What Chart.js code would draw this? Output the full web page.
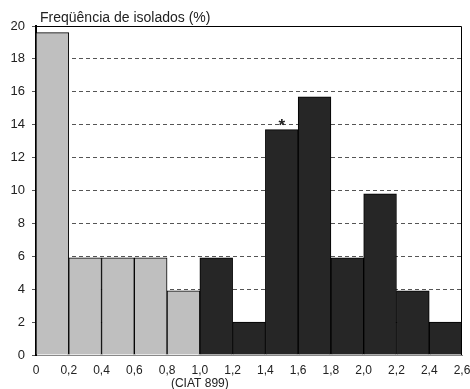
<!DOCTYPE html>
<html>
<head>
<meta charset="utf-8">
<script src="https://cdn.jsdelivr.net/npm/chart.js@4/dist/chart.umd.min.js"></script>
<style>
  html, body { margin: 0; padding: 0; background: #fff; }
  #wrap { width: 470px; height: 389px; }
</style>
</head>
<body>
<div id="wrap"><canvas id="hist"></canvas></div>
<script>
const BIN_CENTERS = [0.1, 0.3, 0.5, 0.7, 0.9, 1.1, 1.3, 1.5, 1.7, 1.9, 2.1, 2.3, 2.5];
const FREQUENCIES = [19.6, 5.9, 5.9, 5.9, 3.9, 5.9, 2.0, 13.7, 15.7, 5.9, 9.8, 3.9, 2.0];
const X_TICK_LABELS = ["0", "0,2", "0,4", "0,6", "0,8", "1,0", "1,2", "1,4", "1,6", "1,8", "2,0", "2,2", "2,4", "2,6"];
const REFERENCE_LABEL = "(CIAT 899)";
const REFERENCE_INDEX = 5;
const MARKED_BIN = 1.5;
const TITLE = "Freqüência de isolados (%)";

const GRAY = "#bfbfbf";
const DARK = "#262626";
const FONT = "'Liberation Sans', Arial, sans-serif";

const barColors = BIN_CENTERS.map((c) => (c < 1.0 ? GRAY : DARK));

// title, plot frame and the asterisk over the marked bin
const extras = {
  id: "extras",
  afterDatasetsDraw(chart) {
    const { ctx, chartArea, scales } = chart;
    ctx.save();
    ctx.strokeStyle = "#000";
    ctx.lineWidth = 1;
    ctx.beginPath();
    ctx.moveTo(chartArea.left, chartArea.top + 0.5);
    ctx.lineTo(chartArea.right - 0.5, chartArea.top + 0.5);
    ctx.lineTo(chartArea.right - 0.5, chartArea.bottom);
    ctx.stroke();

    ctx.fillStyle = "#222";
    ctx.font = "14px " + FONT;
    ctx.textAlign = "left";
    ctx.textBaseline = "alphabetic";
    ctx.fillText(TITLE, chartArea.left + 4, chartArea.top - 4);

    const idx = BIN_CENTERS.indexOf(MARKED_BIN);
    const ax = scales.x.getPixelForValue(MARKED_BIN);
    const ay = scales.y.getPixelForValue(FREQUENCIES[idx]);
    ctx.font = "bold 17px " + FONT;
    ctx.textAlign = "center";
    ctx.fillText("*", ax, ay + 1);
    ctx.restore();
  },
};

new Chart(document.getElementById("hist"), {
  type: "bar",
  data: {
    datasets: [
      {
        data: BIN_CENTERS.map((c, i) => ({ x: c, y: FREQUENCIES[i] })),
        backgroundColor: barColors,
        borderColor: "#000",
        borderWidth: 1,
        barPercentage: 1,
        categoryPercentage: 1,
      },
    ],
  },
  options: {
    responsive: true,
    maintainAspectRatio: false,
    animation: false,
    layout: {
      padding: { top: 26, right: 0, left: 0, bottom: 0 },
    },
    plugins: {
      legend: { display: false },
      tooltip: { enabled: false },
    },
    scales: {
      x: {
        type: "linear",
        offset: false,
        min: 0,
        max: 2.6,
        afterFit: (scale) => {
          scale.height = 34;
          scale.paddingRight = 8;
        },
        grid: { display: false, drawTicks: false },
        border: { display: true, color: "#888", width: 1 },
        ticks: {
          stepSize: 0.2,
          autoSkip: false,
          maxRotation: 0,
          padding: 9,
          color: "#222",
          font: { family: FONT, size: 12, lineHeight: 1.1 },
          callback: (v, i) =>
            i === REFERENCE_INDEX ? [X_TICK_LABELS[i], REFERENCE_LABEL] : X_TICK_LABELS[i],
        },
      },
      y: {
        min: 0,
        max: 20,
        afterFit: (scale) => {
          scale.width = 36;
        },
        grid: {
          color: "#555",
          lineWidth: 1,
          tickLength: 4,
          tickColor: "#555",
          tickBorderDash: [],
        },
        border: { display: true, color: "#000", width: 2, dash: [4, 3] },
        ticks: {
          stepSize: 2,
          padding: 7,
          color: "#222",
          font: { family: FONT, size: 13 },
        },
      },
    },
  },
  plugins: [extras],
});
</script>
</body>
</html>
